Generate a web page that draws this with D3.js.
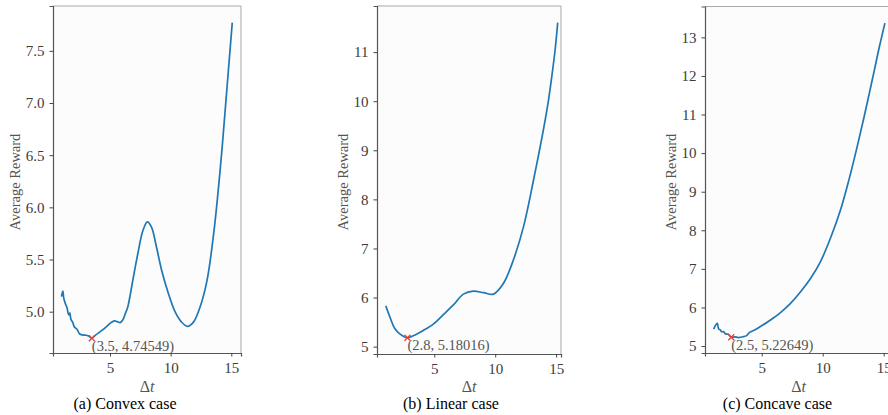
<!DOCTYPE html>
<html>
<head>
<meta charset="utf-8">
<script src="https://cdn.jsdelivr.net/npm/d3@7/dist/d3.min.js"></script>
<style>
  html, body { margin: 0; padding: 0; background: #ffffff; }
  svg { display: block; }
</style>
</head>
<body>
<svg id="chart" width="888" height="415"></svg>
<script>
// ---------------- DATA ----------------
const convexDt = [1.0, 1.11, 1.19, 1.33, 1.47, 1.55, 1.64, 1.69, 1.78, 1.94, 2.05, 2.28, 2.5, 2.72, 3.05, 3.28, 3.5,
  3.83, 4.39, 4.8, 5.08, 5.36, 5.64, 5.83, 6.05, 6.27, 6.47, 6.88, 7.3, 7.72, 8.08, 8.42, 8.83, 9.25, 9.8,
  10.36, 10.9, 11.38, 11.88, 12.44, 13.0, 13.55, 13.92, 14.25, 14.53, 14.8, 15.08];
const convexReward = [5.144, 5.198, 5.128, 5.074, 5.032, 4.984, 4.968, 4.99, 4.926, 4.894, 4.856, 4.831, 4.786, 4.777, 4.774, 4.764, 4.745,
  4.777, 4.825, 4.866, 4.895, 4.911, 4.902, 4.895, 4.92, 4.984, 5.048, 5.30, 5.56, 5.78, 5.86, 5.81, 5.62, 5.40, 5.18,
  5.0, 4.90, 4.86, 4.90, 5.05, 5.30, 5.75, 6.16, 6.58, 6.98, 7.37, 7.77];

const linearDt = [1.02, 1.35, 1.76, 2.17, 2.8, 3.27, 4.1, 4.92, 5.74, 6.57, 7.39, 8.2, 9.04, 9.86, 10.68, 11.5,
  12.33, 13.15, 13.57, 13.98, 14.39, 14.67, 14.94, 15.13];
const linearReward = [5.83, 5.61, 5.37, 5.26, 5.18016, 5.22, 5.33, 5.46, 5.65, 5.85, 6.07, 6.13, 6.10, 6.07, 6.29, 6.77,
  7.45, 8.40, 8.92, 9.45, 10.05, 10.55, 11.1, 11.6];

const concaveDt = [1.06, 1.28, 1.36, 1.47, 1.61, 1.72, 1.88, 2.05, 2.24, 2.44, 2.5, 2.79, 3.07, 3.48, 3.76, 3.9, 4.03,
  4.45, 4.86, 5.69, 6.51, 7.34, 8.17, 9.0, 9.82, 10.64, 11.47, 12.16, 12.85, 13.4, 13.82, 14.22, 14.64, 15.1];
const concaveReward = [5.44, 5.57, 5.59, 5.44, 5.42, 5.37, 5.37, 5.31, 5.31, 5.24, 5.22649, 5.24, 5.22, 5.24, 5.27, 5.32, 5.36,
  5.42, 5.50, 5.67, 5.86, 6.10, 6.40, 6.75, 7.19, 7.80, 8.54, 9.32, 10.2, 10.95, 11.55, 12.13, 12.75, 13.37];

const minDt = [3.5, 2.8, 2.5];
const minReward = [4.74549, 5.18016, 5.22649];
const minLabels = ["(3.5, 4.74549)", "(2.8, 5.18016)", "(2.5, 5.22649)"];

const captions = ["(a) Convex case", "(b) Linear case", "(c) Concave case"];
const xTicks = [5, 10, 15];
const yTicksConvex = [5.0, 5.5, 6.0, 6.5, 7.0, 7.5];
const yTicksLinear = [5, 6, 7, 8, 9, 10, 11];
const yTicksConcave = [5, 6, 7, 8, 9, 10, 11, 12, 13];
const yLabel = "Average Reward";

// ---------------- LAYOUT ----------------
const panels = [
  { dt: convexDt, r: convexReward, yTicks: yTicksConvex, fmt: d3.format(".1f"),
    left: 53, right: 241, top: 6, bottom: 353, xDom: [0.3, 15.8], yDom: [4.604, 7.93],
    yLabX: 15, capX: 125 },
  { dt: linearDt, r: linearReward, yTicks: yTicksLinear, fmt: d3.format("d"),
    left: 377, right: 561, top: 6, bottom: 354, xDom: [0.3, 15.4], yDom: [4.85, 11.94],
    yLabX: 343, capX: 451 },
  { dt: concaveDt, r: concaveReward, yTicks: yTicksConcave, fmt: d3.format("d"),
    left: 705, right: 892, top: 6.5, bottom: 353, xDom: [0.35, 15.68], yDom: [4.82, 13.8],
    yLabX: 671, capX: 777.5 }
];

const svg = d3.select("#chart");
const serif = "Liberation Serif";

panels.forEach((p, i) => {
  const x = d3.scaleLinear().domain(p.xDom).range([p.left, p.right]);
  const y = d3.scaleLinear().domain(p.yDom).range([p.bottom, p.top]);
  const g = svg.append("g");

  g.append("rect")
    .attr("x", p.left).attr("y", p.top)
    .attr("width", p.right - p.left).attr("height", p.bottom - p.top)
    .attr("fill", "#fcfcfc");

  g.append("line").attr("x1", p.left).attr("x2", p.right).attr("y1", p.top).attr("y2", p.top)
    .attr("stroke", "#a8a8a8").attr("stroke-width", 1);
  g.append("line").attr("x1", p.right).attr("x2", p.right).attr("y1", p.top).attr("y2", p.bottom)
    .attr("stroke", "#a8a8a8").attr("stroke-width", 1);

  const xAxis = d3.axisBottom(x).tickValues(xTicks).tickSize(3.5).tickPadding(4).tickFormat(d3.format("d"));
  const yAxis = d3.axisLeft(y).tickValues(p.yTicks).tickSize(3.5).tickPadding(5).tickFormat(p.fmt);

  const gx = g.append("g").attr("transform", `translate(0,${p.bottom})`).call(xAxis);
  const gy = g.append("g").attr("transform", `translate(${p.left},0)`).call(yAxis);
  [gx, gy].forEach(a => {
    a.attr("font-family", null).attr("font-size", null);
    a.select(".domain").attr("stroke", "#555").attr("stroke-width", 1.2);
    a.selectAll(".tick line").attr("stroke", "#444").attr("stroke-width", 1);
    a.selectAll(".tick text").attr("fill", "#3c3c3c")
      .attr("font-family", serif).attr("font-size", 15);
  });
  gx.selectAll(".tick text").attr("dy", "0.85em");

  const line = d3.line()
    .x((d, k) => x(p.dt[k]))
    .y((d, k) => y(p.r[k]))
    .curve(d3.curveCatmullRom.alpha(0.5));
  g.append("path")
    .datum(p.r)
    .attr("d", line)
    .attr("fill", "none")
    .attr("stroke", "#1f77b4")
    .attr("stroke-width", 1.7)
    .attr("stroke-linejoin", "round");

  const mx = x(minDt[i]), my = y(minReward[i]);
  const s = 3;
  g.append("path")
    .attr("d", `M${mx - s},${my - s}L${mx + s},${my + s}M${mx - s},${my + s}L${mx + s},${my - s}`)
    .attr("stroke", "#e8403a").attr("stroke-width", 1.3).attr("fill", "none");
  g.append("text")
    .attr("x", mx).attr("y", my + 12.5)
    .attr("fill", "#555")
    .attr("font-family", serif).attr("font-size", 14.5)
    .text(minLabels[i]);

  g.append("text")
    .attr("transform", `translate(${p.yLabX},182) rotate(-90)`)
    .attr("text-anchor", "middle")
    .attr("dominant-baseline", "central")
    .attr("fill", "#555")
    .attr("font-family", serif).attr("font-size", 14.5)
    .text(yLabel);

  const xl = g.append("text")
    .attr("x", (p.left + p.right) / 2).attr("y", 392)
    .attr("text-anchor", "middle")
    .attr("fill", "#555")
    .attr("font-family", serif).attr("font-size", 16);
  xl.append("tspan").text("Δ");
  xl.append("tspan").attr("font-style", "italic").text("t");

  svg.append("text")
    .attr("x", p.capX).attr("y", 409)
    .attr("text-anchor", "middle")
    .attr("fill", "#000")
    .attr("font-family", serif).attr("font-size", 16)
    .text(captions[i]);
});
</script>
</body>
</html>
